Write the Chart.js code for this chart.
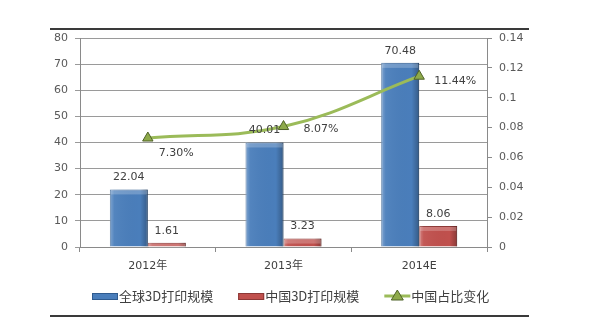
<!DOCTYPE html>
<html>
<head>
<meta charset="utf-8">
<script src="https://cdn.jsdelivr.net/npm/chart.js@4/dist/chart.umd.min.js"></script>
<style>
  html, body { margin: 0; padding: 0; background: #fff; }
  #wrap { position: relative; width: 600px; height: 321px; overflow: hidden; }
  #chart { position: absolute; left: 0; top: 0; }
  .rule { position: absolute; height: 2px; background: #3a3a3a; }
</style>
</head>
<body>
<div id="wrap">
  <canvas id="chart" width="600" height="321"></canvas>
  <div class="rule" style="left:50px; top:28px; width:479px;"></div>
  <div class="rule" style="left:50px; top:315px; width:479px;"></div>
</div>
<script>
// 数据
const years = ['2012年', '2013年', '2014E'];
const globalScale = [22.04, 40.01, 70.48];   // 全球3D打印规模
const chinaScale = [1.61, 3.23, 8.06];       // 中国3D打印规模
const chinaShare = [0.073, 0.0807, 0.1144];  // 中国占比变化
const seriesNames = ['全球3D打印规模', '中国3D打印规模', '中国占比变化'];

const latinFont = "'DejaVu Sans', 'Noto Sans CJK SC', sans-serif";
const cjkFont = "'Noto Sans CJK SC', 'DejaVu Sans', sans-serif";
const textColor = '#404040';

// 折线标签相对数据点的偏移（样式）
const shareLabelOffset = [[11, 15], [20, 3], [15, 5]];

// 柱子的立体效果：左亮右暗
const bevelPlugin = {
  id: 'barBevel',
  afterDatasetDraw(chart, args) {
    if (chart.data.datasets[args.index].type !== 'bar') return;
    const ctx = chart.ctx;
    ctx.save();
    args.meta.data.forEach(el => {
      const left = el.x - el.width / 2;
      const g = ctx.createLinearGradient(left, 0, left + el.width, 0);
      g.addColorStop(0, 'rgba(255,255,255,0.30)');
      g.addColorStop(0.12, 'rgba(255,255,255,0.05)');
      g.addColorStop(0.8, 'rgba(0,0,0,0)');
      g.addColorStop(1, 'rgba(0,0,0,0.28)');
      ctx.fillStyle = g;
      ctx.fillRect(left, el.y, el.width, el.base - el.y);
      const h = Math.min(4, el.base - el.y);
      ctx.fillStyle = 'rgba(255,255,255,0.22)';
      ctx.fillRect(left + 1, el.y + 1, el.width - 2, h);
    });
    ctx.restore();
  }
};

const labelPlugin = {
  id: 'valueLabels',
  afterDatasetsDraw(chart) {
    const ctx = chart.ctx;
    ctx.save();
    ctx.font = '11px ' + latinFont;
    ctx.fillStyle = textColor;
    [1, 2].forEach(i => {
      const meta = chart.getDatasetMeta(i);
      meta.data.forEach((el, j) => {
        ctx.textAlign = 'center';
        ctx.textBaseline = 'middle';
        ctx.fillText(chart.data.datasets[i].data[j].toFixed(2), el.x, el.y - 12);
      });
    });
    const lineMeta = chart.getDatasetMeta(0);
    lineMeta.data.forEach((el, j) => {
      const off = shareLabelOffset[j];
      ctx.textAlign = 'left';
      ctx.textBaseline = 'middle';
      ctx.fillText((chinaShare[j] * 100).toFixed(2) + '%', el.x + off[0], el.y + off[1]);
    });
    ctx.restore();
  }
};

const legendPlugin = {
  id: 'customLegend',
  afterDraw(chart) {
    const ctx = chart.ctx;
    ctx.save();
    ctx.font = '13px ' + cjkFont;
    ctx.textBaseline = 'middle';
    ctx.textAlign = 'left';
    const y = 296;
    let x = 92;
    const symbols = ['bar', 'bar', 'line'];
    const dsIndex = [1, 2, 0];
    symbols.forEach((kind, k) => {
      const ds = chart.data.datasets[dsIndex[k]];
      if (kind === 'bar') {
        ctx.fillStyle = ds.backgroundColor;
        ctx.fillRect(x, y - 3, 26, 7);
        ctx.strokeStyle = ds.borderColor;
        ctx.lineWidth = 1;
        ctx.strokeRect(x + 0.5, y - 2.5, 25, 6);
      } else {
        ctx.strokeStyle = ds.borderColor;
        ctx.lineWidth = 3;
        ctx.beginPath();
        ctx.moveTo(x, y);
        ctx.lineTo(x + 26, y);
        ctx.stroke();
        ctx.fillStyle = ds.pointBackgroundColor;
        ctx.strokeStyle = ds.pointBorderColor;
        ctx.lineWidth = 1;
        ctx.beginPath();
        ctx.moveTo(x + 13, y - 6);
        ctx.lineTo(x + 19, y + 4);
        ctx.lineTo(x + 7, y + 4);
        ctx.closePath();
        ctx.fill();
        ctx.stroke();
      }
      ctx.fillStyle = textColor;
      ctx.fillText(ds.label, x + 27, y);
      x += 27 + ctx.measureText(ds.label).width + 25;
    });
    ctx.restore();
  }
};

new Chart(document.getElementById('chart'), {
  data: {
    labels: years,
    datasets: [
      {
        type: 'line',
        label: seriesNames[2],
        data: chinaShare,
        yAxisID: 'y1',
        borderColor: '#9BBB59',
        borderWidth: 3,
        tension: 0.4,
        pointStyle: 'triangle',
        pointRadius: 6,
        pointBackgroundColor: '#8EAA4A',
        pointBorderColor: '#4F6228',
        pointBorderWidth: 1,
        order: 0
      },
      {
        type: 'bar',
        label: seriesNames[0],
        data: globalScale,
        yAxisID: 'y',
        backgroundColor: '#4A7EBB',
        borderColor: '#2F5B8F',
        borderWidth: 1,
        barPercentage: 1,
        categoryPercentage: 0.56,
        order: 1
      },
      {
        type: 'bar',
        label: seriesNames[1],
        data: chinaScale,
        yAxisID: 'y',
        backgroundColor: '#C0504D',
        borderColor: '#8C3836',
        borderWidth: 1,
        barPercentage: 1,
        categoryPercentage: 0.56,
        order: 1
      }
    ]
  },
  options: {
    responsive: false,
    animation: false,
    layout: { padding: { top: 38, left: 0, right: 0, bottom: 0 } },
    plugins: {
      legend: { display: false },
      tooltip: { enabled: false }
    },
    scales: {
      x: {
        offset: true,
        grid: { offset: true, drawOnChartArea: false, tickLength: 5, color: '#8a8a8a' },
        border: { color: '#8a8a8a' },
        ticks: { padding: 8, color: textColor, font: { size: 11, family: latinFont } },
        afterFit(scale) { scale.height = 74; }
      },
      y: {
        position: 'left',
        min: 0,
        max: 80,
        ticks: { stepSize: 10, padding: 7, color: '#595959', font: { size: 11, family: latinFont } },
        grid: { color: '#9a9a9a', tickLength: 5 },
        border: { color: '#8a8a8a' },
        afterFit(scale) { scale.width = 80; }
      },
      y1: {
        position: 'right',
        min: 0,
        max: 0.14,
        ticks: {
          stepSize: 0.02,
          padding: 7,
          color: '#595959',
          font: { size: 11, family: latinFont },
          callback: v => String(+v.toFixed(2))
        },
        grid: { drawOnChartArea: false, tickLength: 5, color: '#8a8a8a' },
        border: { color: '#8a8a8a' },
        afterFit(scale) { scale.width = 113; }
      }
    }
  },
  plugins: [bevelPlugin, labelPlugin, legendPlugin]
});
</script>
</body>
</html>
